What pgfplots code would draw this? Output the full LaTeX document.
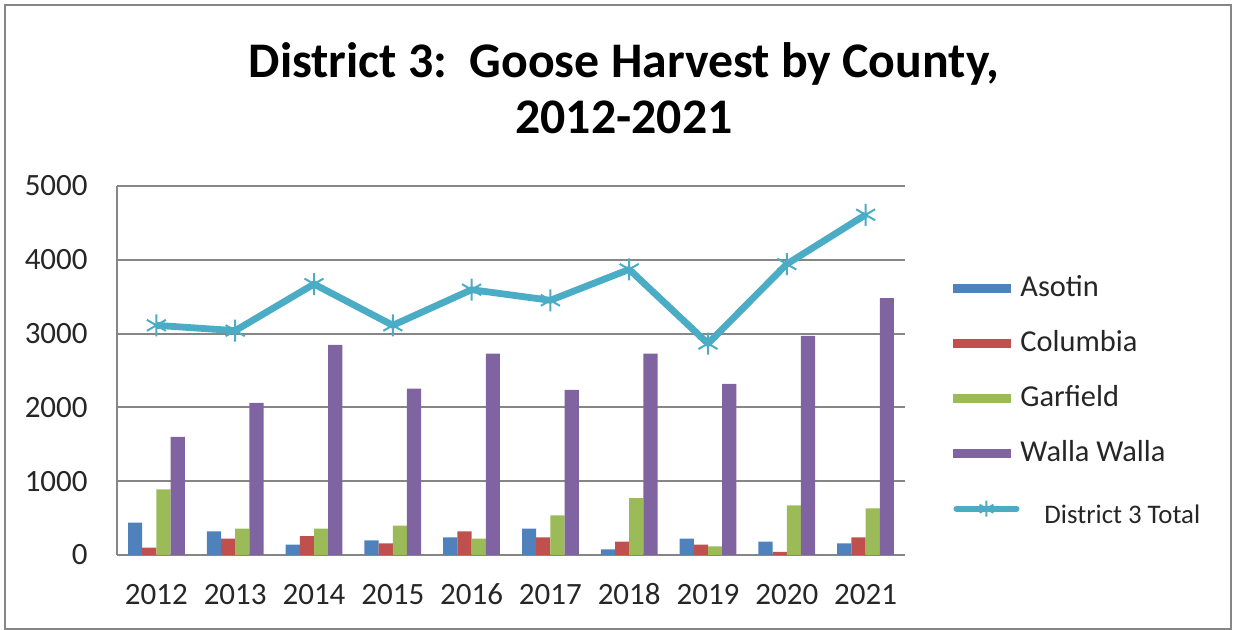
\documentclass[border=0pt]{standalone}
\usepackage{pgfplots}
\pgfplotsset{compat=1.18}
\usepackage{fontspec}
\setmainfont{Carlito}

\definecolor{asotin}{HTML}{4F81BD}
\definecolor{columbia}{HTML}{C0504D}
\definecolor{garfield}{HTML}{9BBB59}
\definecolor{walla}{HTML}{8064A2}
\definecolor{total}{HTML}{4BACC6}
\definecolor{gridgray}{HTML}{868686}

% harvest per county, years 2012..2021 plotted at 0..9
\pgfplotstableread{
x  asotin columbia garfield walla total
0  437    99       889      1601  3112
1  321    221      356      2061  3040
2  140    257      356      2846  3671
3  198    158      397      2256  3112
4  239    321      221      2729  3595
5  356    239      537      2237  3451
6  77     180      771      2729  3870
7  221    140      117      2318  2865
8  180    41       672      2968  3942
9  158    239      632      3482  4610
}\harvest

\begin{document}
\begin{tikzpicture}
\path[use as bounding box] (0,0) rectangle (616.5pt,315pt);
\draw[gridgray, line width=1pt] (2.5pt,0.5pt) rectangle (615.5pt,312.5pt);
\node[font=\fontsize{24.9}{28}\selectfont\bfseries, align=center, anchor=north]
  at (312pt,297pt) {District 3:\ \ Goose Harvest by County,\\2012-2021};
\begin{axis}[
    at={(58.5pt,37.5pt)}, anchor=south west,
    scale only axis, width=394pt, height=184.5pt,
    ybar=0pt, bar width=0.18,
    xmin=-0.5, xmax=9.5, ymin=0, ymax=5000,
    xtick=data,
    xticklabels={2012,2013,2014,2015,2016,2017,2018,2019,2020,2021},
    ytick={0,1000,2000,3000,4000,5000},
    axis x line*=bottom, axis y line*=left,
    axis line style={gridgray, line width=1pt, -},
    major tick length=0pt,
    ymajorgrids, grid style={gridgray, line width=1pt},
    tick label style={font=\fontsize{15.5}{18}\selectfont, text=black!85},
    /pgf/number format/assume math mode=true,
    /pgf/number format/1000 sep={},
    xticklabel style={anchor=base, inner sep=0pt, yshift=-25pt},
    yticklabel style={anchor=east, inner sep=0pt, xshift=-14.5pt},
    legend style={draw=none, fill=none, at={(1.0534,0.4235)}, anchor=west,
        font=\fontsize{15.2}{18}\selectfont, text=black!85,
        nodes={inner sep=0pt, text height=11pt, text depth=3pt},
        row sep=13.5pt, column sep=0.5pt},
    legend cell align=left,
]
\addplot[fill=asotin, draw=none,
    legend image code/.code={\fill[asotin] (0pt,-2.25pt) rectangle (29pt,2.25pt);}]
    table[x=x, y=asotin] {\harvest};
\addlegendentry{Asotin}
\addplot[fill=columbia, draw=none,
    legend image code/.code={\fill[columbia] (0pt,-2.25pt) rectangle (29pt,2.25pt);}]
    table[x=x, y=columbia] {\harvest};
\addlegendentry{Columbia}
\addplot[fill=garfield, draw=none,
    legend image code/.code={\fill[garfield] (0pt,-2.25pt) rectangle (29pt,2.25pt);}]
    table[x=x, y=garfield] {\harvest};
\addlegendentry{Garfield}
\addplot[fill=walla, draw=none,
    legend image code/.code={\fill[walla] (0pt,-2.25pt) rectangle (29pt,2.25pt);}]
    table[x=x, y=walla] {\harvest};
\addlegendentry{Walla Walla}
\addplot[sharp plot, total, line width=3.4pt, line join=round,
    mark=asterisk, mark size=5.5pt, mark options={line width=1pt},
    legend image code/.code={
      \draw[total, line width=3pt, line cap=round] (1.5pt,0pt) -- (31.5pt,0pt);
      \draw[total, line width=1pt] plot[mark=asterisk, mark size=4pt] coordinates {(16.5pt,0pt)};}]
    table[x=x, y=total] {\harvest};
\addlegendentry{\raisebox{-3.5pt}{\hspace{12pt}\fontsize{13.4}{15}\selectfont District 3 Total}}
\end{axis}
\end{tikzpicture}
\end{document}
